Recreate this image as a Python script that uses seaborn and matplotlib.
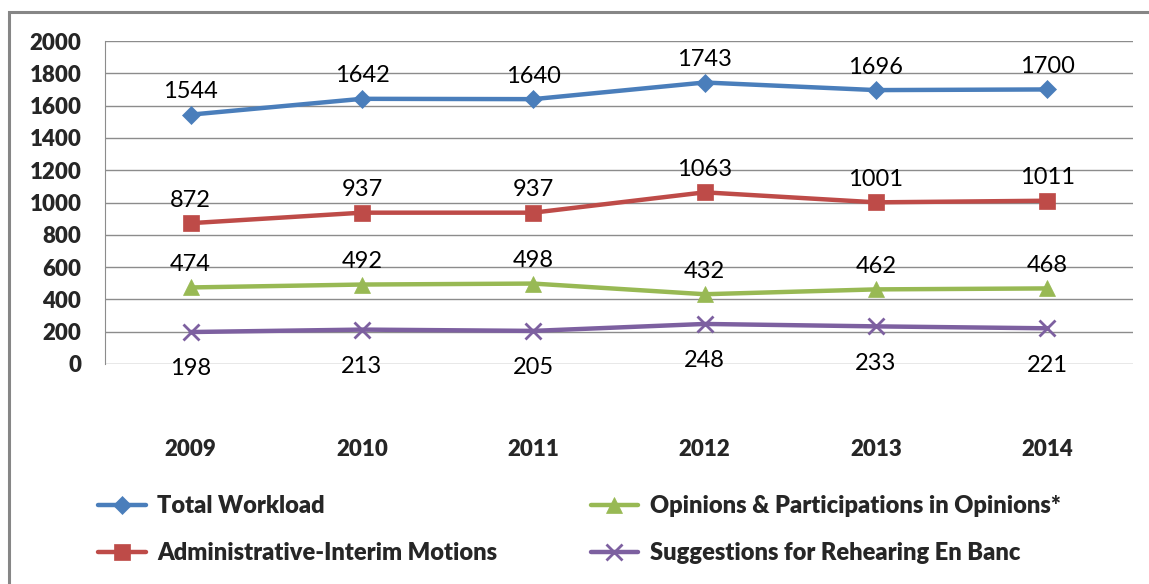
import matplotlib
matplotlib.use("agg")
import matplotlib.pyplot as plt
import pandas as pd
import seaborn as sns
from matplotlib.patches import Rectangle

years = ["2009", "2010", "2011", "2012", "2013", "2014"]
total_workload = [1544, 1642, 1640, 1743, 1696, 1700]
admin_motions = [872, 937, 937, 1063, 1001, 1011]
opinions = [474, 492, 498, 432, 462, 468]
suggestions = [198, 213, 205, 248, 233, 221]

series_names = [
    "Total Workload",
    "Administrative-Interim Motions",
    "Opinions & Participations in Opinions*",
    "Suggestions for Rehearing En Banc",
]
series_values = [total_workload, admin_motions, opinions, suggestions]
colors = ["#4A7EBB", "#BE4B48", "#98B954", "#7D60A0"]
markers = ["D", "s", "^", "x"]
marker_sizes = [9, 12, 11, 11]
label_above = [True, True, True, False]

sns.set_style("white")
plt.rcParams["font.family"] = ["Lato", "DejaVu Sans"]

df = pd.DataFrame(
    [(y, name, v) for name, vals in zip(series_names, series_values) for y, v in zip(years, vals)],
    columns=["Year", "Series", "Value"],
)

fig = plt.figure(figsize=(11.49, 5.84), dpi=100)
ax = fig.add_axes([105 / 1149, 1 - 364 / 584, (1133 - 105) / 1149, (364 - 41) / 584])

# outer chart frame
fig.patches.append(
    Rectangle((9 / 1149, -0.1), 1.2, 1 - 12 / 584 + 0.1, transform=fig.transFigure,
              fill=False, edgecolor="#868686", linewidth=2.2, zorder=0)
)

handles = []
for name, color, mk, ms, above in zip(series_names, colors, markers, marker_sizes, label_above):
    sub = df[df["Series"] == name]
    x = list(range(len(sub)))
    (line,) = ax.plot(x, sub["Value"], color=color, linewidth=3.2, marker=mk,
                      markersize=ms, markeredgewidth=2 if mk == "x" else 0.5,
                      markeredgecolor=color, label=name, zorder=3)
    handles.append(line)
    for xi, v in zip(x, sub["Value"]):
        ax.annotate(str(v), (xi, v), xytext=(0, 9 if above else -19), textcoords="offset points",
                    ha="center", va="bottom" if above else "top", fontsize=17, color="#000000")

ax.set_xlim(-0.5, len(years) - 0.5)
ax.set_ylim(0, 2000)
ax.set_yticks(range(0, 2001, 200))
ax.set_xticks(range(len(years)))
ax.set_xticklabels(years)
ax.grid(axis="y", color="#8C8C8C", linewidth=1)
ax.set_axisbelow(True)
for side in ["top", "right", "bottom"]:
    ax.spines[side].set_visible(False)
ax.spines["left"].set_color("#8C8C8C")
ax.tick_params(axis="y", length=0, pad=17, labelsize=16)
ax.tick_params(axis="x", length=0, pad=54, labelsize=16)
for lbl in ax.get_xticklabels() + ax.get_yticklabels():
    lbl.set_fontweight("heavy")

fig.legend(handles=handles, labels=series_names, ncol=2, loc="upper left",
           bbox_to_anchor=(89 / 1149, 1 - 486 / 584), frameon=False,
           prop={"size": 17, "weight": "heavy"}, handlelength=2.0, handletextpad=0.5,
           columnspacing=3.95, labelspacing=1.05, borderaxespad=0)

fig.savefig("out.png", dpi=100)
